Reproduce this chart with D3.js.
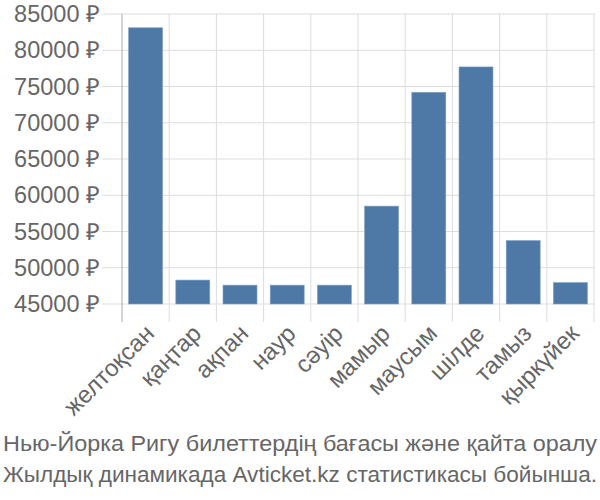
<!DOCTYPE html>
<html>
<head>
    <script src="https://d3js.org/d3.v7.min.js"></script>
    <style>
        body { margin: 0; background: #fff; font-family: "Liberation Sans", Arial, sans-serif; }
        .lbl { fill: #666; }
    </style>
</head>
<body>
    <div id="chart"></div>
    <script>
        // Data
        const months = ['желтоқсан', 'қаңтар', 'ақпан', 'наур', 'сәуір', 'мамыр', 'маусым', 'шілде', 'тамыз', 'қыркүйек'];
        const prices = [83100, 48300, 47600, 47600, 47600, 58500, 74200, 77700, 53750, 47950];
        const yTicks = [45000, 50000, 55000, 60000, 65000, 70000, 75000, 80000, 85000];
        const footer = ['Нью-Йорка Ригу билеттердің бағасы және қайта оралу', 'Жылдық динамикада Avticket.kz статистикасы бойынша.'];

        const width = 600, height = 500;
        const plotLeft = 122, plotRight = 594, plotTop = 14, plotBottom = 304;

        const svg = d3.select('#chart').append('svg')
            .attr('width', width)
            .attr('height', height);

        const x = d3.scaleBand().domain(months).range([plotLeft, plotRight]).paddingInner(0.28).paddingOuter(0.14);
        const xGrid = d3.scaleBand().domain(months).range([plotLeft, plotRight]);
        const y = d3.scaleLinear().domain([45000, 85000]).range([plotBottom, plotTop]);

        // horizontal grid
        svg.append('g')
            .selectAll('line')
            .data(yTicks)
            .enter()
            .append('line')
            .attr('x1', plotLeft - 20).attr('x2', plotRight + 1)
            .attr('y1', d => y(d)).attr('y2', d => y(d))
            .attr('stroke', '#ddd').attr('stroke-width', 1);

        // vertical grid at band boundaries
        const bounds = months.map(m => xGrid(m)).concat([plotRight]);
        svg.append('g')
            .selectAll('line')
            .data(bounds.slice(1))
            .enter()
            .append('line')
            .attr('x1', d => d).attr('x2', d => d)
            .attr('y1', plotTop).attr('y2', plotBottom + 18)
            .attr('stroke', '#ddd').attr('stroke-width', 1);

        // y axis line
        svg.append('line')
            .attr('x1', plotLeft).attr('x2', plotLeft)
            .attr('y1', plotTop).attr('y2', plotBottom + 18)
            .attr('stroke', '#aaa').attr('stroke-width', 1);

        // y labels
        svg.append('g')
            .selectAll('text')
            .data(yTicks)
            .enter()
            .append('text')
            .attr('class', 'lbl')
            .style('font-size', '23.5px')
            .attr('x', plotLeft - 22)
            .attr('y', d => y(d))
            .attr('dy', '0.35em')
            .attr('text-anchor', 'end')
            .text(d => d + ' ₽');

        // bars
        svg.append('g')
            .selectAll('rect')
            .data(prices)
            .enter()
            .append('rect')
            .attr('x', (d, i) => x(months[i]))
            .attr('width', x.bandwidth())
            .attr('y', d => y(d))
            .attr('height', d => y(45000) - y(d))
            .attr('fill', '#4e79a7')
            .attr('stroke', '#7f9fc4')
            .attr('stroke-width', 0.6);

        // x labels
        svg.append('g')
            .selectAll('text')
            .data(months)
            .enter()
            .append('text')
            .attr('class', 'lbl')
            .style('font-size', '24px')
            .attr('text-anchor', 'end')
            .attr('transform', d => `translate(${x(d) + x.bandwidth() / 2 + 4},${plotBottom + 25}) rotate(-45)`)
            .attr('dy', '0.35em')
            .text(d => d);

        // footer, stretched to the full width like the reference
        svg.append('g')
            .selectAll('text')
            .data(footer)
            .enter()
            .append('text')
            .attr('class', 'lbl')
            .style('font-size', '22.5px')
            .attr('x', 3)
            .attr('y', (d, i) => 451 + i * 31)
            .attr('textLength', 594)
            .attr('lengthAdjust', 'spacingAndGlyphs')
            .text(d => d);
    </script>
</body>
</html>
